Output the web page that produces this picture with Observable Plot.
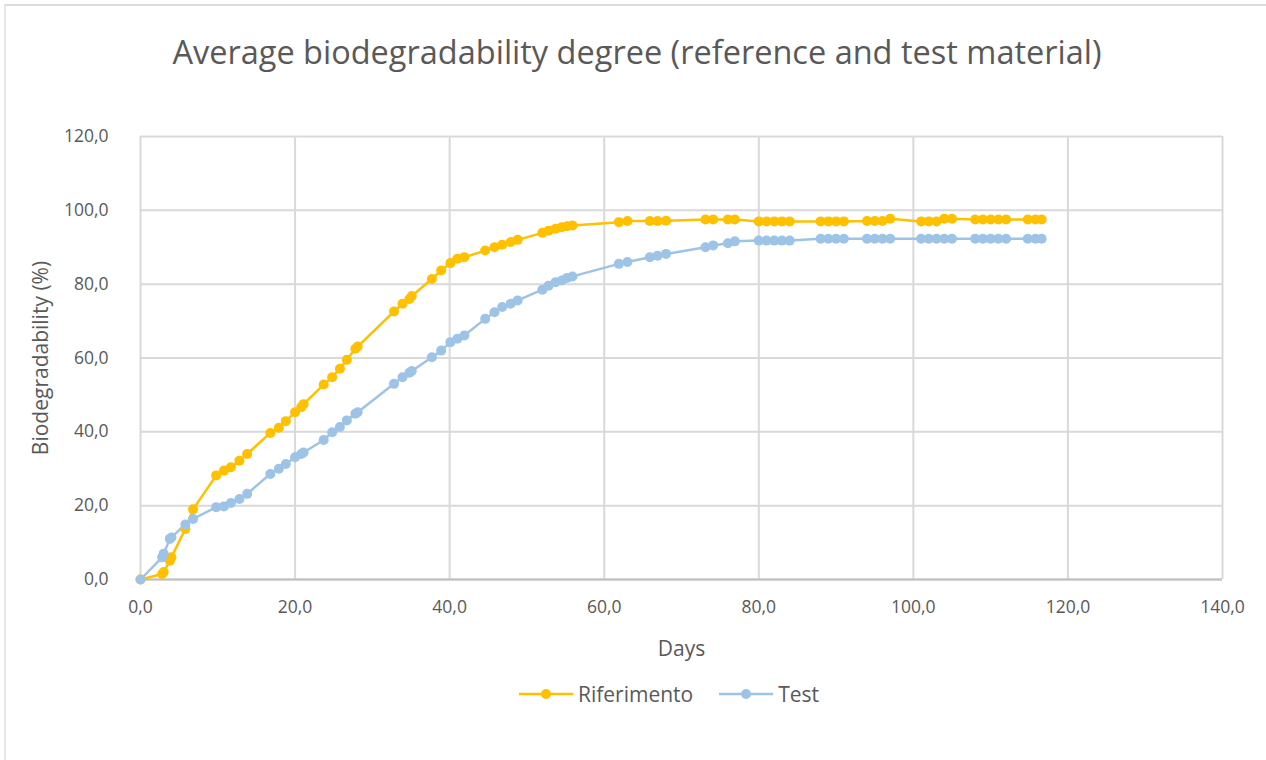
<!DOCTYPE html>
<html>
<head>
<meta charset="utf-8">
<script src="https://cdn.jsdelivr.net/npm/d3@7"></script>
<script src="https://cdn.jsdelivr.net/npm/@observablehq/plot@0.6"></script>
<style>
  html, body { margin: 0; padding: 0; background: #ffffff; }
  body { width: 1266px; height: 760px; position: relative; overflow: hidden; font-family: "Open Sans", sans-serif; }
  #frame { position: absolute; left: 4px; top: 4px; width: 1262px; height: 756px; border-top: 2px solid #dcdcdc; border-left: 2px solid #e6e6e6; box-sizing: border-box; }
  #title { position: absolute; left: 0; top: 0; width: 1266px; height: 100px; text-align: center; line-height: 104px; font-size: 32.5px; color: #595959; padding-left: 8px; box-sizing: border-box; }
  #chart { position: absolute; left: 0; top: 100px; }
  #legend { position: absolute; left: 0; top: 680px; width: 1266px; height: 28px; display: flex; justify-content: center; align-items: center; gap: 26px; font-size: 21px; color: #595959; padding-left: 72px; box-sizing: border-box; }
  .item { display: flex; align-items: center; gap: 5px; }
</style>
</head>
<body>
<div id="frame"></div>
<div id="title">Average biodegradability degree (reference and test material)</div>
<div id="chart"></div>
<div id="legend"></div>
<script>
const days = [0, 2.8, 3, 3.8, 4, 5.8, 6.8, 9.8, 10.8, 11.7, 12.8, 13.8, 16.8, 17.9, 18.8, 20, 20.8, 21.1,
  23.7, 24.8, 25.8, 26.7, 27.8, 28.1, 32.8, 33.9, 34.8, 35.1, 37.7, 38.9, 40.1, 41, 41.9,
  44.6, 45.8, 46.8, 47.9, 48.8, 52, 52.8, 53.7, 54.5, 55.2, 55.9, 61.9, 63, 65.9, 66.9, 68,
  73.1, 74.1, 76, 76.9, 80, 81, 82, 83, 84, 88, 89, 90, 91, 94, 95, 96, 97,
  101, 102, 103, 104, 105, 108, 109, 110, 111, 112, 114.8, 115.8, 116.6];
const riferimento = [0, 1.5, 2.0, 5.1, 6.0, 13.7, 19.0, 28.2, 29.5, 30.4, 32.2, 34.0, 39.7, 41.1, 42.9, 45.3, 46.7, 47.5,
  52.8, 54.8, 57.1, 59.5, 62.5, 63.1, 72.6, 74.7, 76.0, 76.8, 81.4, 83.7, 85.7, 86.9, 87.3,
  89.1, 90.0, 90.7, 91.4, 92.0, 93.9, 94.5, 95.0, 95.4, 95.7, 95.9, 96.8, 97.1, 97.1, 97.1, 97.2,
  97.5, 97.5, 97.5, 97.5, 97.0, 97.0, 97.0, 97.0, 97.0, 97.0, 97.0, 97.0, 97.0, 97.1, 97.1, 97.1, 97.7,
  97.0, 97.0, 97.0, 97.7, 97.7, 97.5, 97.5, 97.5, 97.5, 97.5, 97.5, 97.5, 97.5];
const test = [0, 6.0, 7.0, 11.0, 11.4, 14.9, 16.4, 19.6, 19.8, 20.7, 21.8, 23.2, 28.6, 30.0, 31.3, 33.1, 34.0, 34.4,
  37.8, 39.9, 41.3, 43.1, 44.9, 45.3, 53.0, 54.8, 56.0, 56.5, 60.2, 62.0, 64.3, 65.2, 66.1,
  70.6, 72.4, 73.8, 74.7, 75.6, 78.5, 79.6, 80.5, 81.0, 81.7, 82.1, 85.5, 86.0, 87.3, 87.7, 88.2,
  90.0, 90.5, 91.1, 91.6, 91.8, 91.8, 91.8, 91.8, 91.8, 92.3, 92.3, 92.3, 92.3, 92.3, 92.3, 92.3, 92.3,
  92.3, 92.3, 92.3, 92.3, 92.3, 92.3, 92.3, 92.3, 92.3, 92.3, 92.3, 92.3, 92.3];
const seriesNames = ["Riferimento", "Test"];
const seriesColors = ["#FFC000", "#9DC3E6"];
const xTicks = [0, 20, 40, 60, 80, 100, 120, 140];
const yTicks = [0, 20, 40, 60, 80, 100, 120];
const title = "Average biodegradability degree (reference and test material)";
const xLabel = "Days";
const yLabel = "Biodegradability (%)";

const rows = [];
days.forEach((d, i) => {
  rows.push({series: seriesNames[0], day: d, value: riferimento[i]});
});
days.forEach((d, i) => {
  rows.push({series: seriesNames[1], day: d, value: test[i]});
});
const fmt = d => d.toFixed(1).replace(".", ",");
const textColor = "#595959";

const chart = Plot.plot({
  width: 1266,
  height: 572,
  marginLeft: 140,
  marginRight: 44,
  marginTop: 36,
  marginBottom: 93,
  style: {fontFamily: "'Open Sans', sans-serif", background: "transparent", overflow: "visible"},
  x: {domain: [0, 140]},
  y: {domain: [0, 120]},
  color: {domain: seriesNames, range: seriesColors},
  marks: [
    Plot.gridX(xTicks, {stroke: "#d9d9d9", strokeOpacity: 1, strokeWidth: 2}),
    Plot.gridY(yTicks, {stroke: "#d9d9d9", strokeOpacity: 1, strokeWidth: 2}),
    Plot.ruleY([0], {stroke: "#bfbfbf", strokeWidth: 2}),
    Plot.axisX(xTicks, {tickSize: 0, tickPadding: 21, tickFormat: fmt, fontSize: 17.5, fill: textColor, label: null}),
    Plot.axisY(yTicks, {tickSize: 0, tickPadding: 32, tickFormat: fmt, fontSize: 17.5, fill: textColor, label: null}),
    Plot.text([xLabel], {frameAnchor: "bottom", dy: 76, fontSize: 21, fill: textColor}),
    Plot.text([yLabel], {frameAnchor: "left", dx: -99, rotate: -90, textAnchor: "middle", fontSize: 21, fill: textColor}),
    Plot.line(rows, {x: "day", y: "value", stroke: "series", z: "series", strokeWidth: 2.5}),
    Plot.dot(rows, {x: "day", y: "value", fill: "series", r: 5})
  ]
});
document.getElementById("chart").appendChild(chart);

const legend = document.getElementById("legend");
seriesNames.forEach((name, i) => {
  const item = document.createElement("div");
  item.className = "item";
  item.innerHTML = `<svg width="54" height="14"><line x1="0" y1="7" x2="54" y2="7" stroke="${seriesColors[i]}" stroke-width="2.5"/><circle cx="27" cy="7" r="5" fill="${seriesColors[i]}"/></svg><span>${name}</span>`;
  legend.appendChild(item);
});
</script>
</body>
</html>
